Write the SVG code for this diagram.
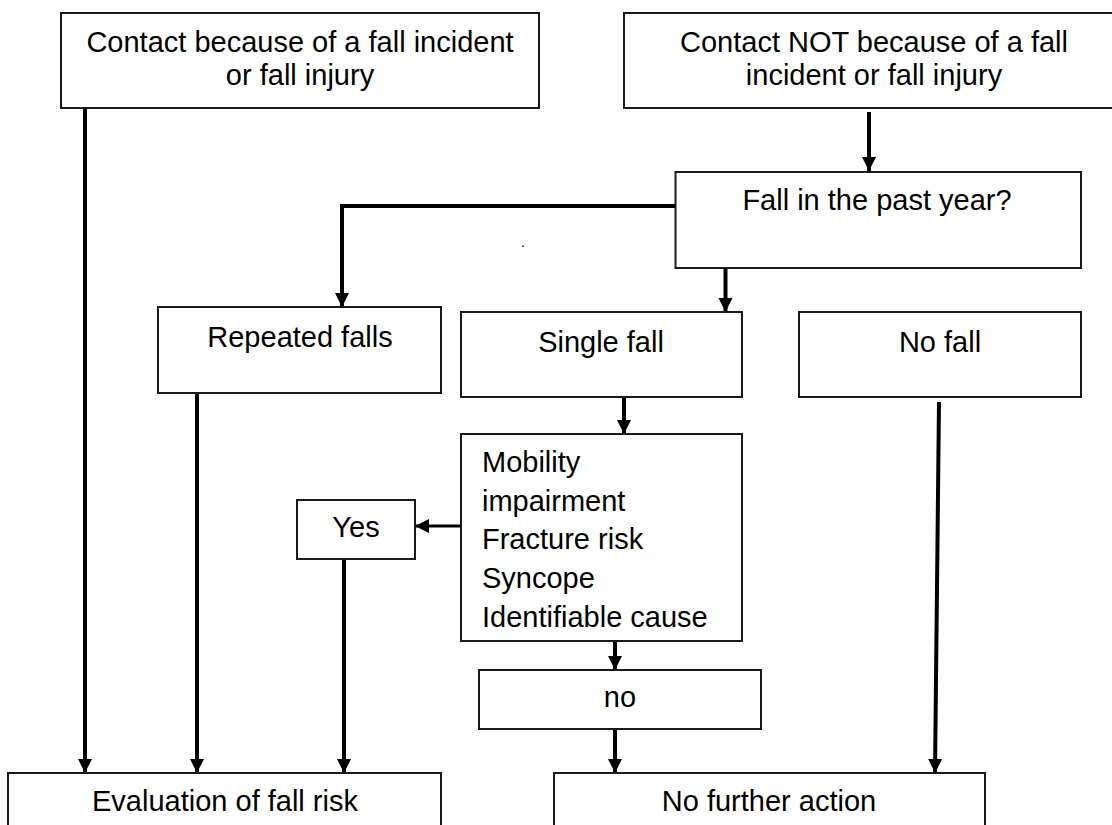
<svg xmlns="http://www.w3.org/2000/svg" width="1112" height="825" viewBox="0 0 1112 825">
<style>
.box{fill:#fff;stroke:#1a1a1a;stroke-width:2}
.t{font-family:"Liberation Sans",Arial,sans-serif;font-size:29px;fill:#000}
.c{text-anchor:middle}
.ln{fill:none;stroke:#000;stroke-width:4}
.lt{fill:none;stroke:#000;stroke-width:3}
</style>
<defs>
<marker id="ah" viewBox="0 0 10 10" refX="10" refY="5" markerUnits="userSpaceOnUse" markerWidth="14" markerHeight="15" orient="auto">
<path d="M0,0 L10,5 L0,10 Z" fill="#000"/>
</marker>
</defs>
<rect width="1112" height="825" fill="#fff"/>
<g id="connectors">
<line class="ln" x1="85" y1="108" x2="85" y2="773" marker-end="url(#ah)"/>
<line class="ln" x1="869" y1="112" x2="869" y2="171" marker-end="url(#ah)"/>
<polyline class="ln" points="675,206 342,206 342,307" marker-end="url(#ah)"/>
<line class="ln" x1="725.5" y1="268" x2="725.5" y2="312" marker-end="url(#ah)"/>
<line class="ln" x1="197" y1="393" x2="197" y2="773" marker-end="url(#ah)"/>
<line class="ln" x1="624" y1="397" x2="624" y2="434" marker-end="url(#ah)"/>
<line class="ln" x1="939" y1="402" x2="935" y2="773" marker-end="url(#ah)"/>
<line class="lt" x1="470" y1="526" x2="415" y2="526" marker-end="url(#ah)"/>
<line class="ln" x1="344" y1="559" x2="344" y2="773" marker-end="url(#ah)"/>
<line class="ln" x1="615" y1="641" x2="615" y2="670" marker-end="url(#ah)"/>
<line class="ln" x1="615" y1="729" x2="615" y2="773" marker-end="url(#ah)"/>
</g>
<g id="n-contact-fall">
<rect class="box" x="61" y="13" width="478" height="95"/>
<text class="t c" x="300" y="52">Contact because of a fall incident</text>
<text class="t c" x="300" y="85">or fall injury</text>
</g>
<g id="n-contact-not">
<rect class="box" x="624" y="13" width="500" height="95"/>
<text class="t c" x="874" y="52">Contact NOT because of a fall</text>
<text class="t c" x="874" y="85">incident or fall injury</text>
</g>
<g id="n-past-year">
<rect class="box" x="675.5" y="172" width="405.5" height="96"/>
<text class="t c" x="877" y="210">Fall in the past year?</text>
</g>
<text class="t" x="521" y="247" style="font-size:14px">.</text>
<g id="n-repeated">
<rect class="box" x="158" y="307" width="283" height="86"/>
<text class="t c" x="300" y="347">Repeated falls</text>
</g>
<g id="n-single">
<rect class="box" x="461" y="312" width="281" height="85"/>
<text class="t c" x="601" y="352">Single fall</text>
</g>
<g id="n-nofall">
<rect class="box" x="799" y="312" width="282" height="85"/>
<text class="t c" x="940" y="352">No fall</text>
</g>
<g id="n-criteria">
<rect class="box" x="461" y="434" width="281" height="207"/>
<text class="t" x="482" y="472">Mobility</text>
<text class="t" x="482" y="511">impairment</text>
<text class="t" x="482" y="549">Fracture risk</text>
<text class="t" x="482" y="588">Syncope</text>
<text class="t" x="482" y="627">Identifiable cause</text>
</g>
<g id="n-yes">
<rect class="box" x="297" y="500" width="118" height="59"/>
<text class="t c" x="356" y="537">Yes</text>
</g>
<g id="n-no">
<rect class="box" x="479" y="670" width="282" height="59"/>
<text class="t c" x="620" y="707">no</text>
</g>
<g id="n-evaluation">
<rect class="box" x="8" y="773" width="433" height="70"/>
<text class="t c" x="225" y="811">Evaluation of fall risk</text>
</g>
<g id="n-nofurther">
<rect class="box" x="554" y="773" width="431" height="70"/>
<text class="t c" x="769" y="811">No further action</text>
</g>
</svg>
